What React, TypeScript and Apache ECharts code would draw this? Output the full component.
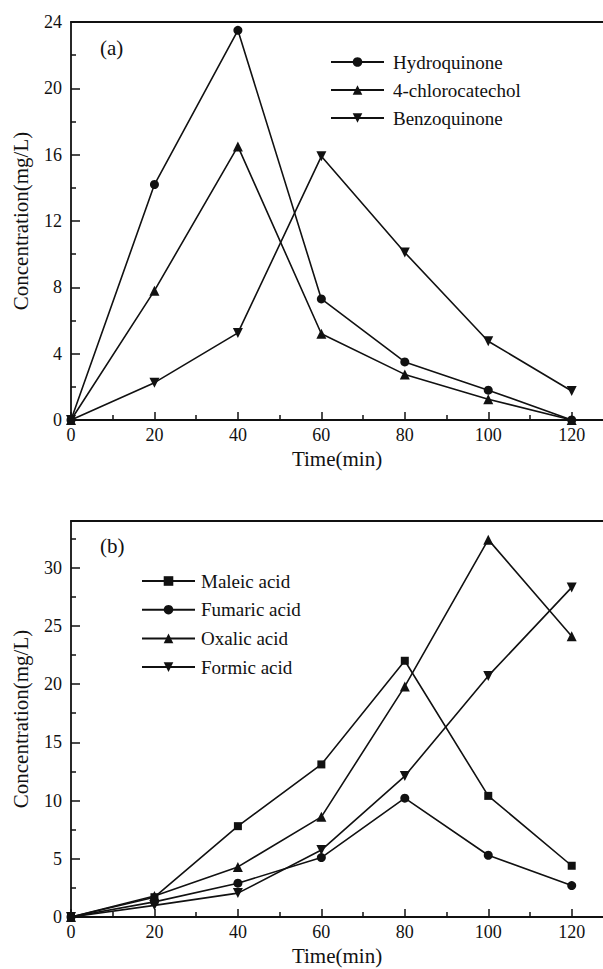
import React, { useEffect, useRef } from "react";
import * as echarts from "echarts";

const times = [0, 20, 40, 60, 80, 100, 120];

const hydroquinone = [0, 14.2, 23.5, 7.3, 3.5, 1.8, 0];
const chlorocatechol = [0, 7.8, 16.5, 5.2, 2.75, 1.25, 0];
const benzoquinone = [0, 2.25, 5.25, 15.9, 10.1, 4.75, 1.75];

const maleic = [0, 1.7, 7.8, 13.1, 22.0, 10.4, 4.4];
const fumaric = [0, 1.3, 2.9, 5.1, 10.2, 5.3, 2.7];
const oxalic = [0, 1.8, 4.3, 8.6, 19.8, 32.4, 24.1];
const formic = [0, 1.0, 2.05, 5.75, 12.1, 20.7, 28.3];

const xMajor = [0, 20, 40, 60, 80, 100, 120];
const xMinor = [10, 30, 50, 70, 90, 110];
const yTopMajor = [0, 4, 8, 12, 16, 20, 24];
const yTopMinor = [2, 6, 10, 14, 18, 22];
const yBotMajor = [0, 5, 10, 15, 20, 25, 30];
const yBotMinor = [2.5, 7.5, 12.5, 17.5, 22.5, 27.5, 32.5];

const FONT = '"Liberation Serif", "Times New Roman", serif';
const INK = "#111";

export default function App() {
  const ref = useRef<HTMLDivElement>(null);
  useEffect(() => {
    if (!ref.current) return;
    const chart = echarts.init(ref.current, null, { renderer: "svg" });
    const pts = (vals: number[]) => times.map((t, i) => [t, vals[i]]);

    const mainX = (grid: number) => ({
      type: "value",
      gridIndex: grid,
      position: "bottom",
      min: 0,
      max: 127.5,
      interval: 20,
      name: "Time(min)",
      nameLocation: "middle",
      nameGap: 28,
      nameTextStyle: { fontFamily: FONT, fontSize: 21, color: INK },
      axisLine: { show: true, onZero: false, lineStyle: { color: INK, width: 1.8 } },
      axisTick: { show: true, inside: true, length: 8, customValues: xMajor, lineStyle: { color: INK, width: 1.5 } },
      axisLabel: { show: true, margin: 6, customValues: xMajor, fontFamily: FONT, fontSize: 18, color: INK },
      splitLine: { show: false },
    });
    const minorX = (grid: number) => ({
      type: "value",
      gridIndex: grid,
      position: "bottom",
      min: 0,
      max: 127.5,
      interval: 20,
      axisLine: { show: false, onZero: false },
      axisTick: { show: true, inside: true, length: 5, customValues: xMinor, lineStyle: { color: INK, width: 1.5 } },
      axisLabel: { show: false },
      splitLine: { show: false },
    });
    const borderX = (grid: number) => ({
      type: "value",
      gridIndex: grid,
      position: "top",
      min: 0,
      max: 127.5,
      axisLine: { show: true, onZero: false, lineStyle: { color: INK, width: 1.8 } },
      axisTick: { show: false },
      axisLabel: { show: false },
      splitLine: { show: false },
    });
    const mainY = (grid: number, max: number, interval: number, major: number[]) => ({
      type: "value",
      gridIndex: grid,
      position: "left",
      min: 0,
      max,
      interval,
      name: "Concentration(mg/L)",
      nameLocation: "middle",
      nameGap: 40,
      nameTextStyle: { fontFamily: FONT, fontSize: 21, color: INK },
      axisLine: { show: true, onZero: false, lineStyle: { color: INK, width: 1.8 } },
      axisTick: { show: true, inside: true, length: 9, customValues: major, lineStyle: { color: INK, width: 1.5 } },
      axisLabel: { show: true, margin: 9, customValues: major, fontFamily: FONT, fontSize: 18, color: INK },
      splitLine: { show: false },
    });
    const minorY = (grid: number, max: number, interval: number, minor: number[]) => ({
      type: "value",
      gridIndex: grid,
      position: "left",
      min: 0,
      max,
      interval,
      axisLine: { show: false, onZero: false },
      axisTick: { show: true, inside: true, length: 5, customValues: minor, lineStyle: { color: INK, width: 1.5 } },
      axisLabel: { show: false },
      splitLine: { show: false },
    });

    const line = (name: string, vals: number[], symbol: string, xi: number, yi: number, rotate = 0, size = 10) => ({
      name,
      type: "line",
      xAxisIndex: xi,
      yAxisIndex: yi,
      data: pts(vals),
      symbol,
      symbolSize: size,
      symbolRotate: rotate,
      showSymbol: true,
      lineStyle: { color: INK, width: 1.6 },
      itemStyle: { color: INK },
      emphasis: { disabled: true },
    });

    const legendBase = {
      orient: "vertical",
      itemWidth: 53,
      itemHeight: 12,
      padding: 0,
      selectedMode: false,
      textStyle: { fontFamily: FONT, fontSize: 19, color: INK, lineHeight: 20, padding: [0, 0, 0, 4] },
    };

    chart.setOption({
      animation: false,
      backgroundColor: "#fff",
      grid: [
        { left: 71, top: 22, width: 532, height: 398, outerBoundsMode: "none" },
        { left: 71, top: 521, width: 532, height: 396, outerBoundsMode: "none" },
      ],
      xAxis: [mainX(0), minorX(0), borderX(0), mainX(1), minorX(1), borderX(1)],
      yAxis: [
        mainY(0, 24, 4, yTopMajor),
        minorY(0, 24, 4, yTopMinor),
        mainY(1, 34, 5, yBotMajor),
        minorY(1, 34, 5, yBotMinor),
      ],
      legend: [
        { ...legendBase, left: 330, top: 52, itemGap: 8, data: ["Hydroquinone", "4-chlorocatechol", "Benzoquinone"] },
        {
          ...legendBase,
          left: 141,
          top: 571,
          itemGap: 8.7,
          textStyle: { ...legendBase.textStyle, padding: [0, 0, 0, 1] },
          data: ["Maleic acid", "Fumaric acid", "Oxalic acid", "Formic acid"],
        },
      ],
      graphic: [
        { type: "text", left: 100, top: 37, style: { text: "(a)", fontFamily: FONT, fontSize: 21, fill: INK } },
        { type: "text", left: 100, top: 535, style: { text: "(b)", fontFamily: FONT, fontSize: 21, fill: INK } },
      ],
      series: [
        line("Hydroquinone", hydroquinone, "circle", 0, 0, 0, 9),
        line("4-chlorocatechol", chlorocatechol, "triangle", 0, 0),
        line("Benzoquinone", benzoquinone, "triangle", 0, 0, 180),
        line("Maleic acid", maleic, "rect", 3, 2, 0, 8),
        line("Fumaric acid", fumaric, "circle", 3, 2, 0, 9),
        line("Oxalic acid", oxalic, "triangle", 3, 2),
        line("Formic acid", formic, "triangle", 3, 2, 180),
      ],
    });
    return () => chart.dispose();
  }, []);
  return <div ref={ref} style={{ position: "fixed", left: 0, top: 0, width: 603, height: 969 }} />;
}
